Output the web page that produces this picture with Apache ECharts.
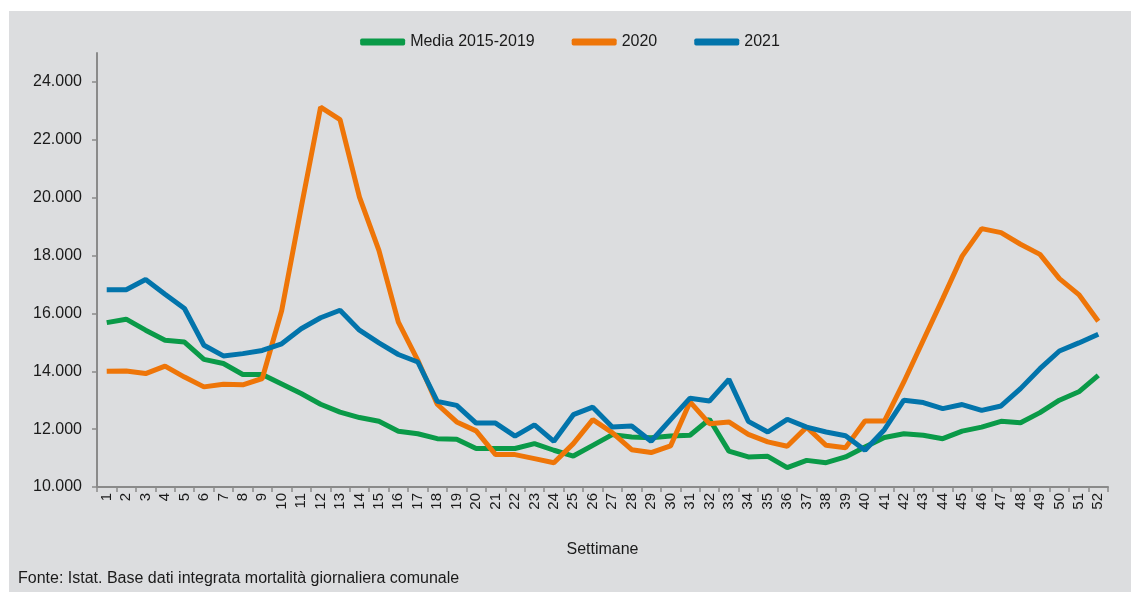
<!DOCTYPE html>
<html>
<head>
<meta charset="utf-8">
<script src="https://cdn.jsdelivr.net/npm/echarts@6/dist/echarts.min.js"></script>
<style>
  html, body { margin: 0; padding: 0; background: #ffffff; }
  #chart { position: absolute; left: 9px; top: 11px; width: 1122px; height: 581px; background: #dcdddf; }
</style>
</head>
<body>
<div id="chart"></div>
<script>
// settimane 1..52
const weeks = [];
for (let i = 1; i <= 52; i++) weeks.push(String(i));

const media = [15680, 15800, 15420, 15070, 15010, 14410, 14270, 13890, 13890, 13560,
  13230, 12860, 12590, 12400, 12270, 11930, 11840, 11670, 11650, 11330,
  11330, 11330, 11500, 11270, 11070, 11440, 11810, 11730, 11700, 11760,
  11790, 12340, 11240, 11040, 11060, 10670, 10920, 10840, 11040, 11380,
  11710, 11840, 11790, 11670, 11930, 12070, 12270, 12220, 12570, 13000,
  13290, 13860];

const y2020 = [14000, 14010, 13920, 14180, 13800, 13460, 13550, 13530, 13750, 16100,
  19650, 23130, 22700, 20020, 18180, 15700, 14380, 12860, 12250, 11940,
  11120, 11120, 10980, 10840, 11500, 12330, 11880, 11290, 11190, 11420,
  12940, 12190, 12250, 11820, 11560, 11410, 12070, 11440, 11360, 12280,
  12280, 13630, 15070, 16510, 17980, 18930, 18790, 18390, 18040, 17200,
  16650, 15730];

const y2021 = [16820, 16820, 17170, 16660, 16170, 14900, 14530, 14610, 14720, 14950,
  15470, 15850, 16110, 15420, 14980, 14580, 14320, 12960, 12820, 12210,
  12210, 11760, 12150, 11580, 12500, 12760, 12070, 12110, 11580, 12330,
  13070, 12970, 13720, 12270, 11900, 12340, 12070, 11900, 11770, 11270,
  11980, 13000, 12920, 12710, 12850, 12650, 12800, 13400, 14090, 14700,
  14980, 15280];

const seriesNames = ['Media 2015-2019', '2020', '2021'];
const colors = ['#0a9a48', '#ee7508', '#0274ab'];

const chart = echarts.init(document.getElementById('chart'));
const font = 'Liberation Sans, Arial, sans-serif';

chart.setOption({
  animation: false,
  color: colors,
  textStyle: { fontFamily: font, color: '#1a1a1a' },
  title: {
    text: 'Fonte: Istat. Base dati integrata mortalità giornaliera comunale',
    left: 4, top: 555,
    textStyle: { fontSize: 16, fontWeight: 'normal', color: '#1a1a1a', fontFamily: font }
  },
  legend: {
    top: 18,
    left: 'center',
    itemWidth: 45,
    itemHeight: 7,
    itemGap: 37,
    icon: 'roundRect',
    textStyle: { fontSize: 16, color: '#1a1a1a', fontFamily: font },
    data: seriesNames
  },
  grid: { left: 88, right: 23, top: 42, bottom: 105 },
  xAxis: {
    type: 'category',
    data: weeks,
    boundaryGap: true,
    name: 'Settimane',
    nameLocation: 'middle',
    nameGap: 55,
    nameTextStyle: { fontSize: 16, color: '#1a1a1a', fontFamily: font },
    axisLine: { lineStyle: { color: '#8a8a8a', width: 2 } },
    axisTick: { show: true, length: 5, lineStyle: { color: '#8a8a8a', width: 1.5 } },
    axisLabel: { rotate: 90, interval: 0, fontSize: 15, color: '#1a1a1a', margin: 6 }
  },
  yAxis: {
    type: 'value',
    min: 10000,
    max: 25000,
    interval: 2000,
    splitLine: { show: false },
    axisLine: { show: true, lineStyle: { color: '#8a8a8a', width: 2 } },
    axisTick: { show: true, length: 5, lineStyle: { color: '#8a8a8a', width: 1.5 } },
    axisLabel: {
      fontSize: 16, color: '#1a1a1a', margin: 15, showMaxLabel: false,
      formatter: (v) => v === 25000 ? '' : v.toLocaleString('it-IT')
    }
  },
  series: [
    { name: seriesNames[0], type: 'line', data: media, symbol: 'none', lineStyle: { width: 5 }, z: 2 },
    { name: seriesNames[1], type: 'line', data: y2020, symbol: 'none', lineStyle: { width: 5 }, z: 3 },
    { name: seriesNames[2], type: 'line', data: y2021, symbol: 'none', lineStyle: { width: 5 }, z: 4 }
  ]
});
</script>
</body>
</html>
